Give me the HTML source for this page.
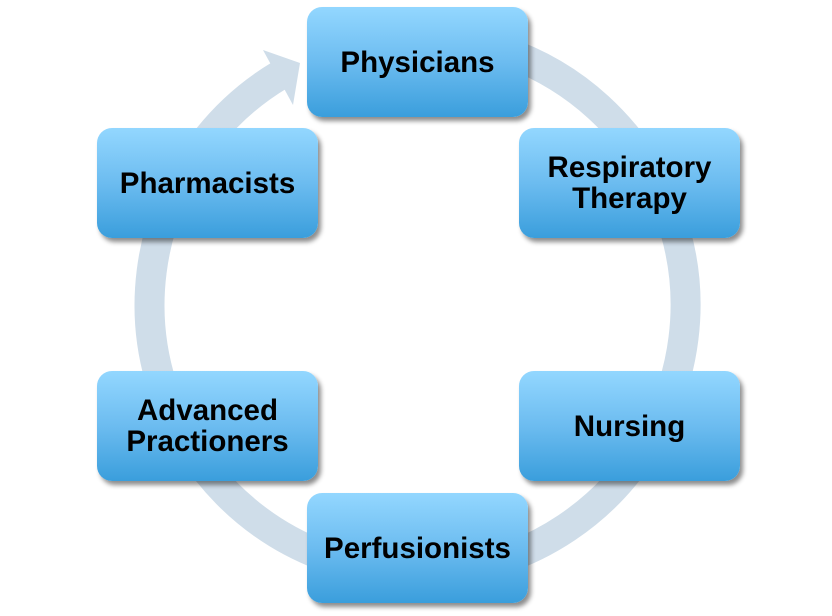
<!DOCTYPE html>
<html><head><style>
body{margin:0;width:832px;height:616px;background:#fff;position:relative;overflow:hidden;font-family:"Liberation Sans",sans-serif;}
svg{position:absolute;left:0;top:0}
.b{position:absolute;width:221px;height:110px;border-radius:15px;background:linear-gradient(#93d7ff,#6cbcf0 50%,#3a9edc);box-shadow:3px 4px 5px rgba(0,0,0,0.45);display:flex;align-items:center;justify-content:center;text-align:center;font-weight:bold;font-size:29.5px;line-height:31px;color:#000;}
</style></head><body>
<svg width="832" height="616">
<path d="M500,50 A268,268 0 1,1 280,75" fill="none" stroke="#cfdde9" stroke-width="30"/>
<polygon points="263,50 300,63 293,105" fill="#cfdde9"/>
</svg>
<div class="b" style="left:307px;top:7px">Physicians</div>
<div class="b" style="left:519px;top:128px">Respiratory<br>Therapy</div>
<div class="b" style="left:519px;top:371px">Nursing</div>
<div class="b" style="left:307px;top:493px">Perfusionists</div>
<div class="b" style="left:97px;top:371px">Advanced<br>Practioners</div>
<div class="b" style="left:97px;top:128px">Pharmacists</div>
</body></html>
